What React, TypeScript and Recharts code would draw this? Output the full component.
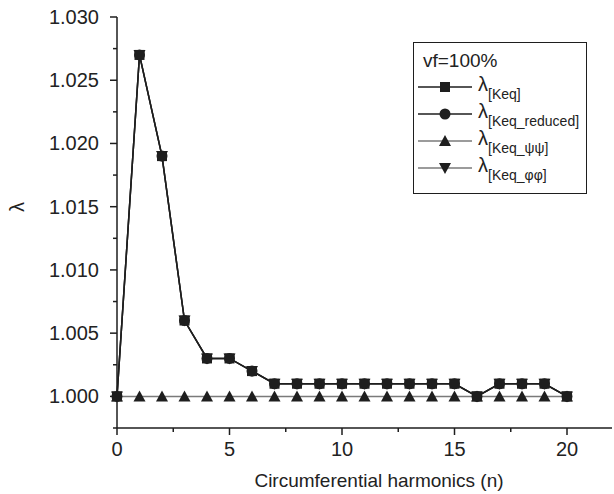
import { LineChart, Line, XAxis, YAxis, Label } from "recharts";

// circumferential harmonic number n
const harmonics = [0, 1, 2, 3, 4, 5, 6, 7, 8, 9, 10, 11, 12, 13, 14, 15, 16, 17, 18, 19, 20];

// buckling ratio lambda per formulation
const lambdaKeq = [1.0, 1.027, 1.019, 1.006, 1.003, 1.003, 1.002, 1.001, 1.001, 1.001, 1.001, 1.001, 1.001, 1.001, 1.001, 1.001, 1.0, 1.001, 1.001, 1.001, 1.0];
const lambdaKeqReduced = [1.0, 1.027, 1.019, 1.006, 1.003, 1.003, 1.002, 1.001, 1.001, 1.001, 1.001, 1.001, 1.001, 1.001, 1.001, 1.001, 1.0, 1.001, 1.001, 1.001, 1.0];
const lambdaPsiPsi = [1.0, 1.0, 1.0, 1.0, 1.0, 1.0, 1.0, 1.0, 1.0, 1.0, 1.0, 1.0, 1.0, 1.0, 1.0, 1.0, 1.0, 1.0, 1.0, 1.0, 1.0];
const lambdaPhiPhi = [1.0, 1.027, 1.019, 1.006, 1.003, 1.003, 1.002, 1.001, 1.001, 1.001, 1.001, 1.001, 1.001, 1.001, 1.001, 1.001, 1.0, 1.001, 1.001, 1.001, 1.0];

const xTicks = [0, 2.5, 5, 7.5, 10, 12.5, 15, 17.5, 20];
const xTickLabels = ["0", "", "5", "", "10", "", "15", "", "20"];
const yTicks = [0.9975, 1.0, 1.0025, 1.005, 1.0075, 1.01, 1.0125, 1.015, 1.0175, 1.02, 1.0225, 1.025, 1.0275, 1.03];
const yTickLabels = ["", "1.000", "", "1.005", "", "1.010", "", "1.015", "", "1.020", "", "1.025", "", "1.030"];

const data = harmonics.map((n, i) => ({
  n,
  keq: lambdaKeq[i],
  reduced: lambdaKeqReduced[i],
  psi: lambdaPsiPsi[i],
  phi: lambdaPhiPhi[i],
}));

const FONT = "'Liberation Sans', Arial, sans-serif";
const INK = "#1e1e1e";
const GREY = "#7a7a7a";

type Shape = "square" | "circle" | "triangle" | "triangleDown";

function marker(shape: Shape, cx: number, cy: number, key?: string) {
  const s = 5;
  if (shape === "square")
    return <rect key={key} x={cx - s} y={cy - s} width={2 * s} height={2 * s} fill={INK} />;
  if (shape === "circle") return <circle key={key} cx={cx} cy={cy} r={s + 0.5} fill={INK} />;
  if (shape === "triangle")
    return (
      <path key={key} d={`M${cx},${cy - 6} L${cx + 6},${cy + 5} L${cx - 6},${cy + 5} Z`} fill={INK} />
    );
  return <path key={key} d={`M${cx},${cy + 6} L${cx + 6},${cy - 5} L${cx - 6},${cy - 5} Z`} fill={INK} />;
}

const dotFor = (shape: Shape) => (props: any) =>
  marker(shape, props.cx, props.cy, `${shape}-${props.index}`);

const XTick = (props: any) => {
  const { x, y, index } = props;
  const label = xTickLabels[index];
  return (
    <g>
      <line x1={x} x2={x} y1={y} y2={y + (label ? 7 : 4)} stroke={INK} strokeWidth={1.5} />
      {label && (
        <text x={x} y={y + 28} textAnchor="middle" fontSize={20} fill="#222" fontFamily={FONT}>
          {label}
        </text>
      )}
    </g>
  );
};

const YTick = (props: any) => {
  const { x, y, index } = props;
  const label = yTickLabels[index];
  return (
    <g>
      <line x1={x - (label ? 7 : 4)} x2={x} y1={y} y2={y} stroke={INK} strokeWidth={1.5} />
      {label && (
        <text x={x - 18} y={y + 7} textAnchor="end" fontSize={20} fill="#222" fontFamily={FONT}>
          {label}
        </text>
      )}
    </g>
  );
};

const legendRows: { shape: Shape; sub: string; color: string }[] = [
  { shape: "square", sub: "[Keq]", color: INK },
  { shape: "circle", sub: "[Keq_reduced]", color: INK },
  { shape: "triangle", sub: "[Keq_ψψ]", color: GREY },
  { shape: "triangleDown", sub: "[Keq_φφ]", color: GREY },
];

export default function App() {
  return (
    <div style={{ position: "absolute", left: 0, top: 0, width: 614, height: 494, background: "#fff" }}>
      <LineChart width={614} height={494} data={data} margin={{ top: 17, right: 2, bottom: 0, left: 0 }}>
        <XAxis
          dataKey="n"
          type="number"
          domain={[0, 22]}
          ticks={xTicks}
          interval={0}
          tickSize={0}
          tickMargin={0}
          tick={<XTick />}
          axisLine={{ stroke: INK, strokeWidth: 1.5 }}
          height={66}
        >
          <Label
            content={() => (
              <text x={379} y={487} textAnchor="middle" fontSize={19} fill="#222" fontFamily={FONT}>
                Circumferential harmonics (n)
              </text>
            )}
          />
        </XAxis>
        <YAxis
          type="number"
          domain={[0.9975, 1.03]}
          ticks={yTicks}
          interval={0}
          tickSize={0}
          tickMargin={0}
          tick={<YTick />}
          axisLine={{ stroke: INK, strokeWidth: 1.5 }}
          width={117}
          allowDataOverflow
        >
          <Label
            content={() => (
              <text
                x={17}
                y={207}
                textAnchor="middle"
                dominantBaseline="central"
                fontSize={20}
                fill="#222"
                fontFamily={FONT}
                transform="rotate(-90 17 207)"
              >
                λ
              </text>
            )}
          />
        </YAxis>
        <Line dataKey="psi" stroke={GREY} strokeWidth={1.5} dot={dotFor("triangle")} isAnimationActive={false} />
        <Line dataKey="phi" stroke={GREY} strokeWidth={1.5} dot={dotFor("triangleDown")} isAnimationActive={false} />
        <Line dataKey="reduced" stroke={INK} strokeWidth={1.5} dot={dotFor("circle")} isAnimationActive={false} />
        <Line dataKey="keq" stroke={INK} strokeWidth={1.5} dot={dotFor("square")} isAnimationActive={false} />
      </LineChart>
      <div
        style={{
          position: "absolute",
          left: 413,
          top: 42,
          width: 172,
          height: 150,
          border: `1.5px solid ${INK}`,
          fontFamily: FONT,
          color: "#222",
          background: "#fff",
        }}
      >
        <div style={{ position: "absolute", left: 9, top: 7, fontSize: 19 }}>vf=100%</div>
        {legendRows.map((r, i) => (
          <div key={r.sub} style={{ position: "absolute", left: 4, top: 33 + i * 27, height: 22, whiteSpace: "nowrap" }}>
            <svg width={56} height={22} style={{ position: "absolute", left: 0, top: 0 }}>
              <line x1={0} x2={54} y1={11} y2={11} stroke={r.color} strokeWidth={1.5} />
              {marker(r.shape, 27, 11)}
            </svg>
            <span style={{ position: "absolute", left: 60, top: -3, fontSize: 20 }}>
              λ<sub style={{ fontSize: 14, verticalAlign: "-0.55em" }}>{r.sub}</sub>
            </span>
          </div>
        ))}
      </div>
    </div>
  );
}
